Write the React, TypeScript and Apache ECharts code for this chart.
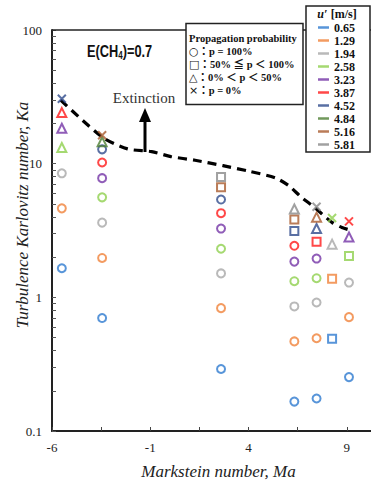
import React, { useEffect, useRef } from 'react';
import * as echarts from 'echarts';

// Markstein number of each measured mixture column
const maColumns = [-5.5, -3.45, 2.6, 6.33, 7.46, 8.25, 9.11];

// u' [m/s] series
const uPrimeLabels = ['0.65', '1.29', '1.94', '2.58', '3.23', '3.87', '4.52', '4.84', '5.16', '5.81'];
const seriesColors = ['#2E7BCF', '#F0823A', '#A8A8A8', '#8ECF4E', '#7434A6', '#FF1A1A', '#2F4B8C', '#4E7F33', '#A95B2E', '#8A8A8A'];

// Turbulence Karlovitz number per column (null = not measured)
const ka065 = [1.65, 0.7, 0.291, 0.166, 0.175, 0.489, 0.253];
const ka129 = [4.63, 1.97, 0.83, 0.468, 0.494, 1.38, 0.711];
const ka194 = [8.47, 3.62, 1.51, 0.855, 0.915, 2.5, 1.29];
const ka258 = [13.2, 5.6, 2.31, 1.32, 1.39, 3.92, 2.04];
const ka323 = [18.4, 7.79, 3.27, 1.85, 1.95, null, 2.83];
const ka387 = [24.1, 10.2, 4.26, 2.43, 2.6, null, 3.7];
const ka452 = [30.6, 12.8, 5.39, 3.13, 3.27, null, null];
const ka484 = [null, 14.6, null, null, null, null, null];
const ka516 = [null, 16.3, 6.65, 3.83, 3.98, null, null];
const ka581 = [null, null, 7.96, 4.58, 4.76, null, null];

// propagation class: c = p=100%, s = 50%<=p<100%, t = 0%<p<50%, x = p=0%
const prob065 = ['c', 'c', 'c', 'c', 'c', 's', 'c'];
const prob129 = ['c', 'c', 'c', 'c', 'c', 's', 'c'];
const prob194 = ['c', 'c', 'c', 'c', 'c', 't', 'c'];
const prob258 = ['t', 'c', 'c', 'c', 'c', 'x', 's'];
const prob323 = ['t', 'c', 'c', 'c', 'c', '', 't'];
const prob387 = ['t', 'c', 'c', 'c', 's', '', 'x'];
const prob452 = ['x', 'c', 'c', 's', 't', '', ''];
const prob484 = ['', 't', '', '', '', '', ''];
const prob516 = ['', 'x', 's', 's', 't', '', ''];
const prob581 = ['', '', 's', 't', 'x', '', ''];

const kaSets = [ka065, ka129, ka194, ka258, ka323, ka387, ka452, ka484, ka516, ka581];
const probSets = [prob065, prob129, prob194, prob258, prob323, prob387, prob452, prob484, prob516, prob581];

// extinction boundary (dashed curve)
const boundaryMa = [-5.56, -3.44, -2.16, -0.93, 0.05, 1.28, 2.7, 3.98, 5.36, 6.05, 6.69, 7.28, 8.26, 8.75, 9.25];
const boundaryKa = [29.9, 15.8, 12.9, 12.3, 11.3, 10.6, 9.66, 8.81, 7.83, 6.84, 5.6, 4.81, 3.62, 3.33, 3.16];

// axis ticks / labels
const xTickValues = [-6, -3.5, -1, 1.5, 4, 6.5, 9];
const xLabelValues = [-6, -1, 4, 9];
const yLabelValues = [0.1, 1, 10, 100];
const yTickValues = [
  0.1, 0.2, 0.3, 0.4, 0.5, 0.6, 0.7, 0.8, 0.9,
  1, 2, 3, 4, 5, 6, 7, 8, 9,
  10, 20, 30, 40, 50, 60, 70, 80, 90, 100,
];

const CROSS = 'path://M0,0L10,10M10,0L0,10';
const symbolFor = (p: string) => (p === 'c' ? 'circle' : p === 's' ? 'rect' : p === 't' ? 'triangle' : CROSS);
const sizeFor = (p: string) => (p === 'c' ? 8 : p === 's' ? 8 : p === 't' ? 9 : 8);

const SERIF = '"Liberation Serif", "Times New Roman", serif';
const LEG_FONT = 'bold 10.5px "Liberation Serif"';

const probRow = (glyph: string, rest: string) => ({
  text: `{g|${glyph}}{t|${rest}}`,
  rich: {
    g: { font: '11px "DejaVu Sans"', fill: '#111', lineHeight: 12 },
    t: { font: 'bold 10.5px "Liberation Serif", "Noto Sans CJK JP"', fill: '#111', lineHeight: 12 },
  },
  lineHeight: 12,
  verticalAlign: 'middle',
});

export default function App() {
  const ref = useRef<HTMLDivElement>(null);
  useEffect(() => {
    if (!ref.current) return;
    const chart = echarts.init(ref.current, undefined, { renderer: 'svg' });

    const scatterSeries = uPrimeLabels.map((name, i) => ({
      name,
      type: 'scatter',
      z: 3,
      data: maColumns
        .map((m, j) =>
          kaSets[i][j] == null
            ? null
            : { value: [m, kaSets[i][j]], symbol: symbolFor(probSets[i][j]), symbolSize: sizeFor(probSets[i][j]) }
        )
        .filter((d) => d !== null),
      itemStyle: { color: 'rgba(0,0,0,0)', borderColor: seriesColors[i], borderWidth: 2 },
      emphasis: { disabled: true },
    }));

    const option: any = {
      animation: false,
      grid: { left: 52, top: 30, width: 330, height: 412, containLabel: false },
      xAxis: {
        type: 'value',
        min: -6,
        max: 10.23,
        position: 'bottom',
        splitLine: { show: false },
        axisLine: { show: true, onZero: false, lineStyle: { color: '#222', width: 2 } },
        axisTick: { show: true, inside: true, length: 4, customValues: xTickValues, lineStyle: { color: '#444', width: 1 } },
        axisLabel: {
          customValues: xLabelValues,
          margin: 10,
          color: '#222',
          fontFamily: SERIF,
          fontSize: 13,
          formatter: (v: number) => String(v),
        },
        name: 'Markstein number, Ma',
        nameLocation: 'middle',
        nameGap: 32,
        nameTextStyle: { fontFamily: SERIF, fontStyle: 'italic', fontSize: 17, color: '#222', padding: [0, 0, 0, 14] },
      },
      yAxis: {
        type: 'log',
        logBase: 10,
        min: 0.1,
        max: 100,
        splitLine: { show: false },
        axisLine: { show: true, onZero: false, lineStyle: { color: '#222', width: 2 } },
        axisTick: { show: true, inside: true, length: 4, customValues: yTickValues, lineStyle: { color: '#555', width: 1 } },
        axisLabel: {
          customValues: yLabelValues,
          margin: 10,
          color: '#222',
          fontFamily: SERIF,
          fontSize: 13,
          formatter: (v: number) => (v >= 1 ? String(Math.round(v)) : v.toFixed(1)),
        },
      },
      legend: {
        orient: 'vertical',
        left: 306,
        top: 6,
        padding: [15, 15, 1, 12],
        itemGap: 0,
        itemWidth: 11,
        itemHeight: 2.5,
        icon: 'rect',
        selectedMode: false,
        backgroundColor: '#fff',
        borderColor: '#222',
        borderWidth: 1.5,
        itemStyle: { borderWidth: 0 },
        textStyle: { fontFamily: SERIF, fontWeight: 'bold', fontSize: 12, lineHeight: 13, color: '#111' },
        data: uPrimeLabels.map((n, i) => ({ name: n, itemStyle: { color: seriesColors[i], borderWidth: 0 } })),
      },
      series: [
        {
          name: 'Extinction boundary',
          type: 'line',
          z: 2,
          smooth: 0.25,
          symbol: 'none',
          silent: true,
          data: boundaryMa.map((m, i) => [m, boundaryKa[i]]),
          lineStyle: { color: '#000', width: 3.2, type: [9, 6] },
        },
        ...scatterSeries,
      ],
      graphic: [
        {
          type: 'line',
          z: 1,
          shape: { x1: 52, y1: 30, x2: 371, y2: 30 },
          style: { stroke: '#222', lineWidth: 1.5 },
        },
        {
          type: 'text',
          x: 22,
          y: 215,
          rotation: Math.PI / 2,
          style: {
            text: 'Turbulence Karlovitz number, Ka',
            font: 'italic 17px "Liberation Serif"',
            fill: '#222',
            align: 'center',
            verticalAlign: 'middle',
          },
        },
        {
          type: 'text',
          x: 87,
          y: 51,
          z: 10,
          scaleX: 0.8,
          style: {
            text: '{a|E(CH}{s|4}{a|)=0.7}',
            rich: {
              a: { font: 'bold 16px "Liberation Sans"', fill: '#111', lineHeight: 20, verticalAlign: 'middle' },
              s: { font: 'bold 10px "Liberation Sans"', fill: '#111', lineHeight: 20, verticalAlign: 'bottom', padding: [9, 0, 0, 0] },
            },
            verticalAlign: 'middle',
            align: 'left',
          },
        },
        {
          type: 'text',
          x: 144,
          y: 98,
          z: 10,
          style: { text: 'Extinction', font: '15px "Liberation Serif"', fill: '#333', align: 'center', verticalAlign: 'middle' },
        },
        {
          type: 'rect',
          z: 10,
          shape: { x: 143.5, y: 118, width: 3, height: 34 },
          style: { fill: '#000' },
        },
        {
          type: 'polygon',
          z: 10,
          shape: { points: [[139, 122], [151, 122], [145, 108]] },
          style: { fill: '#000' },
        },
        {
          type: 'rect',
          z: 10,
          shape: { x: 186, y: 23.5, width: 117, height: 81 },
          style: { fill: '#fff', stroke: '#222', lineWidth: 1.5 },
        },
        {
          type: 'text',
          x: 189,
          y: 38,
          z: 11,
          style: { text: 'Propagation probability', font: LEG_FONT, fill: '#111', verticalAlign: 'middle' },
        },
        { type: 'text', x: 189, y: 51, z: 11, style: probRow('○', '：p = 100%') },
        { type: 'text', x: 189, y: 64, z: 11, style: probRow('□', '：50% ≦ p ＜ 100%') },
        { type: 'text', x: 189, y: 77, z: 11, style: probRow('△', '：0% ＜ p ＜ 50%') },
        { type: 'text', x: 189, y: 90, z: 11, style: probRow('×', '：p = 0%') },
        {
          type: 'text',
          x: 337,
          y: 13.5,
          z: 20,
          style: {
            text: '{i|u′} {b|[m/s]}',
            rich: {
              i: { font: 'italic bold 12px "Liberation Serif"', fill: '#111' },
              b: { font: 'bold 12px "Liberation Serif"', fill: '#111' },
            },
            align: 'center',
            verticalAlign: 'middle',
          },
        },
      ],
    };

    chart.setOption(option);
    return () => chart.dispose();
  }, []);

  return <div ref={ref} style={{ width: 371, height: 485, position: 'absolute', left: 0, top: 0 }} />;
}
